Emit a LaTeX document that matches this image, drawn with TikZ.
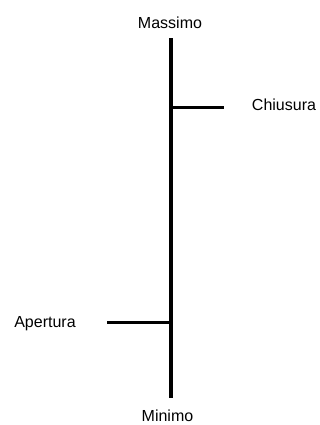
\documentclass[tikz,border=0pt]{standalone}
\usepackage{fontspec}
\setmainfont{Liberation Sans}
\begin{document}
\begin{tikzpicture}[x=1pt,y=-1pt,
  lbl/.style={inner sep=0pt,anchor=base,font=\fontsize{16}{19}\selectfont},
  stem/.style={line width=4pt},
  tick/.style={line width=3pt}]
\useasboundingbox[fill=white] (0,0) rectangle (320,425);
\node[lbl] (max) at (170,28.7) {Massimo};
\node[lbl] (chi) at (284,110.7) {Chiusura};
\node[lbl] (ape) at (45,327.7) {Apertura};
\node[lbl] (min) at (167.5,421.3) {Minimo};
\coordinate (top) at (171,38.5);
\coordinate (bot) at (171,398);
\coordinate (cl) at (171,107.5);
\coordinate (cr) at (224,107.5);
\coordinate (ol) at (107,322.5);
\coordinate (or) at (171,322.5);
\draw[stem] (top) -- (bot);
\draw[tick] (cl) -- (cr);
\draw[tick] (ol) -- (or);
\end{tikzpicture}
\end{document}
